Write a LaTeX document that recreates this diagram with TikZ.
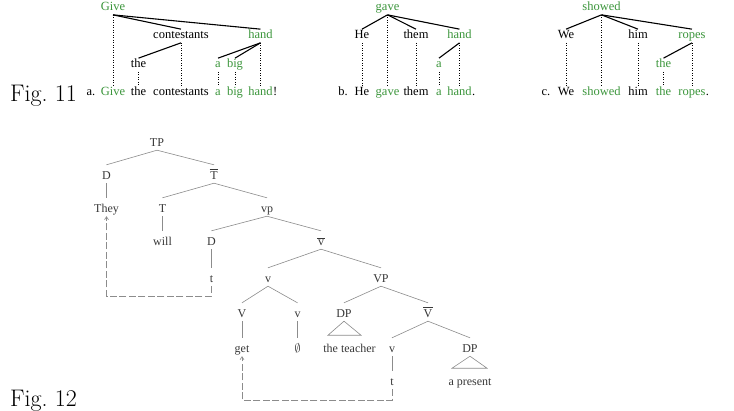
\documentclass[tikz,border=0pt]{standalone}
\usepackage{fontspec}
\newfontfamily\tms{Liberation Serif}
\usetikzlibrary{arrows.meta}
\definecolor{gr}{RGB}{60,150,60}
\newcommand\ovbar[1]{\vbox{\hrule height 0.5pt\kern1.3pt\hbox{\kern0.6pt#1\kern0.6pt}}}
\begin{document}
\begin{tikzpicture}[x=1pt,y=-1pt,
  wa/.style={font=\tms\fontsize{12.5}{14}\selectfont, inner sep=1pt, text height=8.5pt, text depth=2.8pt},
  gw/.style={wa, text=gr},
  sl/.style={line width=1.1pt},
  dt/.style={line width=0.7pt, dash pattern=on 0.7pt off 1.8pt},
  tn/.style={font=\tms\fontsize{12}{14}\selectfont, text=black!78, inner sep=1pt, text height=13pt, text depth=3pt},
  br/.style={draw=black!45, line width=0.6pt},
  mv/.style={draw=black!45, line width=0.6pt, dash pattern=on 7pt off 2.5pt, -{Straight Barb[length=3pt,width=4pt]}},
  fg/.style={font=\fontsize{24}{28}\selectfont, inner sep=0pt, anchor=base west}]
\useasboundingbox[fill=white] (0,0) rectangle (734,410);

% ---------- Fig labels ----------
\node[fg] (f11) at (10,101) {Fig.~11};
\node[fg] (f12) at (10,406.5) {Fig.~12};

% ---------- Fig 11 (a) ----------
\node[gw] (g1) at (113,8) {Give};
\node[wa] (c1) at (181,36) {contestants};
\node[gw] (h1) at (260.5,36) {hand};
\node[wa] (th1) at (138.5,65) {the};
\node[gw] (a1) at (218,65) {a};
\node[gw] (bg1) at (235,65) {big};
\node[wa] (la) at (91,93) {a.};
\node[gw] (G1) at (113,93) {Give};
\node[wa] (TH1) at (138.5,93) {the};
\node[wa] (C1) at (181,93) {contestants};
\node[gw] (A1) at (218,93) {a};
\node[gw] (BG1) at (235,93) {big};
\node[gw] (H1) at (260.5,93) {hand};
\node[wa, anchor=base west, inner sep=0pt] (ex1) at ([xshift=-1pt]H1.base east) {!};
\draw[sl] (g1.south) -- (c1.north);
\draw[sl] (g1.south) -- (h1.north);
\draw[sl] (c1.south) -- (th1.north);
\draw[sl] (h1.south) -- (a1.north);
\draw[sl] (h1.south) -- (bg1.north);
\draw[dt] (g1.south) -- (G1.north);
\draw[dt] (c1.south) -- (C1.north);
\draw[dt] (th1.south) -- (TH1.north);
\draw[dt] (h1.south) -- (H1.north);
\draw[dt] (a1.south) -- (A1.north);
\draw[dt] (bg1.south) -- (BG1.north);

% (b)
\node[gw] (g2) at (387.5,8) {gave};
\node[wa] (he2) at (362,36) {He};
\node[wa] (tm2) at (416,36) {them};
\node[gw] (h2) at (459.5,36) {hand};
\node[gw] (a2) at (439,65) {a};
\node[wa] (lb) at (343,93) {b.};
\node[wa] (HE2) at (362,93) {He};
\node[gw] (G2) at (387.5,93) {gave};
\node[wa] (TM2) at (416,93) {them};
\node[gw] (A2) at (439,93) {a};
\node[gw] (H2) at (459.5,93) {hand};
\node[wa, anchor=base west, inner sep=0pt] (pd2) at ([xshift=-1pt]H2.base east) {.};
\draw[sl] (g2.south) -- (he2.north);
\draw[sl] (g2.south) -- (tm2.north);
\draw[sl] (g2.south) -- (h2.north);
\draw[sl] (h2.south) -- (a2.north);
\draw[dt] (g2.south) -- (G2.north);
\draw[dt] (he2.south) -- (HE2.north);
\draw[dt] (tm2.south) -- (TM2.north);
\draw[dt] (h2.south) -- (H2.north);
\draw[dt] (a2.south) -- (A2.north);

% (c)
\node[gw] (s3) at (601.5,8) {showed};
\node[wa] (we3) at (566,36) {We};
\node[wa] (hm3) at (638,36) {him};
\node[gw] (r3) at (692,36) {ropes};
\node[gw] (t3) at (663.5,65) {the};
\node[wa] (lc) at (546,93) {c.};
\node[wa] (WE3) at (566,93) {We};
\node[gw] (S3) at (601.5,93) {showed};
\node[wa] (HM3) at (638,93) {him};
\node[gw] (T3) at (663.5,93) {the};
\node[gw] (R3) at (692,93) {ropes};
\node[wa, anchor=base west, inner sep=0pt] (pd3) at ([xshift=-1pt]R3.base east) {.};
\draw[sl] (s3.south) -- (we3.north);
\draw[sl] (s3.south) -- (hm3.north);
\draw[sl] (s3.south) -- (r3.north);
\draw[sl] (r3.south) -- (t3.north);
\draw[dt] (s3.south) -- (S3.north);
\draw[dt] (we3.south) -- (WE3.north);
\draw[dt] (hm3.south) -- (HM3.north);
\draw[dt] (r3.south) -- (R3.north);
\draw[dt] (t3.south) -- (T3.north);

% ---------- Fig 12 ----------
\node[tn] (TP) at (157,141) {TP};
\node[tn] (D1) at (106.5,174) {D};
\node[tn] (Tb) at (214,174) {\ovbar{T}};
\node[tn] (They) at (106.5,207) {They};
\node[tn] (T) at (162.5,207) {T};
\node[tn] (vp) at (267,207) {vp};
\node[tn] (will) at (162.5,240) {will};
\node[tn] (D2) at (211.5,240) {D};
\node[tn] (vb) at (321,240) {\ovbar{v}};
\node[tn] (t1) at (211.5,277) {t};
\node[tn] (v1) at (268,277) {v};
\node[tn] (VP) at (381,277) {VP};
\node[tn] (V) at (242,312) {V};
\node[tn] (v2) at (297.5,312) {v};
\node[tn] (DP1) at (344,312) {DP};
\node[tn] (Vb) at (428,312) {\ovbar{V}};
\node[tn] (get) at (242,347) {get};
\node[tn] (emp) at (297.5,347) {$\emptyset$};
\node[tn] (tea) at (349.5,347) {the teacher};
\node[tn] (v3) at (392,347) {v};
\node[tn] (DP2) at (470,347) {DP};
\node[tn] (t2) at (392,380) {t};
\node[tn] (pres) at (470,380) {a present};

\draw[br] (TP.south) -- (D1.north);
\draw[br] (TP.south) -- (Tb.north);
\draw[br] (D1.south) -- (They.north);
\draw[br] (Tb.south) -- (T.north);
\draw[br] (Tb.south) -- (vp.north);
\draw[br] (T.south) -- (will.north);
\draw[br] (vp.south) -- (D2.north);
\draw[br] (vp.south) -- (vb.north);
\draw[br] (D2.south) -- (t1.north);
\draw[br] (vb.south) -- (v1.north);
\draw[br] (vb.south) -- (VP.north);
\draw[br] (v1.south) -- (V.north);
\draw[br] (v1.south) -- (v2.north);
\draw[br] (V.south) -- (get.north);
\draw[br] (v2.south) -- (emp.north);
\draw[br] (VP.south) -- (DP1.north);
\draw[br] (VP.south) -- (Vb.north);
\draw[br] (Vb.south) -- (v3.north);
\draw[br] (Vb.south) -- (DP2.north);
\draw[br] (v3.south) -- (t2.north);
\draw[br] (DP1.south) -- ++(-16,14) -- ++(33,0) -- cycle;
\draw[br] (DP2.south) -- ++(-18,12) -- ++(35,0) -- cycle;

\coordinate (m1) at (106.5,296);
\coordinate (m2) at (242,400);
\draw[mv] (t1.south) |- (m1) -- (They.south);
\draw[mv] (t2.south) |- (m2) -- (get.south);
\end{tikzpicture}
\end{document}
